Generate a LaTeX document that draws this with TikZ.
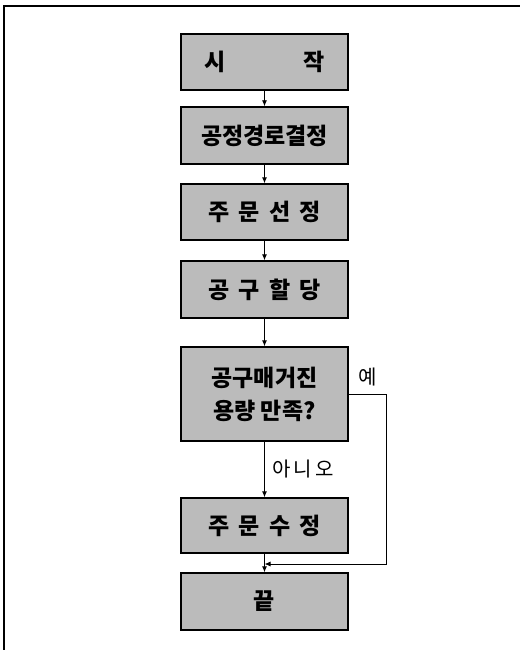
\documentclass[tikz,border=0pt]{standalone}
\usepackage{fontspec}
\setmainfont{Noto Sans CJK KR}
\usetikzlibrary{positioning,arrows.meta}
\definecolor{boxGray}{HTML}{BBBBBB}
\newcommand\kgap{\hspace{0.4em}}

\begin{document}
\begin{tikzpicture}[
  x=1pt, y=-1pt,
  font=\bfseries\fontsize{23}{33}\selectfont,
  bx/.style={draw=black, line width=1.4pt, fill=boxGray, minimum width=167pt, inner sep=0pt, align=center},
  flow/.style={-{Latex[length=6pt,width=5pt]}, line width=0.9pt},
  lab/.style={font=\fontsize{20}{24}\selectfont},
]
\useasboundingbox (0,0) rectangle (520,650);

% page frame (top and left edge only)
\draw[line width=2pt] (4,650) -- (4,6) -- (520,6);

% =========================== STEPS ===========================
\node[bx, minimum height=56pt] (start) at (264.5,62)   {시\hspace{3.4em}작};
\node[bx, minimum height=57pt] (route) at (264.5,135.5) {공정경로결정};
\node[bx, minimum height=56pt] (order) at (264.5,212)   {주\kgap 문\kgap 선\kgap 정};
\node[bx, minimum height=57pt] (tool)  at (264.5,289.5) {공\kgap 구\kgap 할\kgap 당};
\node[bx, minimum height=94pt] (check) at (264.5,394)   {공구매거진\\용량 만족?};
\node[bx, minimum height=55pt] (fix)   at (264.5,525.5) {주\kgap 문\kgap 수\kgap 정};
\node[bx, minimum height=57pt] (stop)  at (264.5,601.5) {끝};

\coordinate (join) at (264.5,564);

\draw[flow] (start) -- (route);
\draw[flow] (route) -- (order);
\draw[flow] (order) -- (tool);
\draw[flow] (tool)  -- (check);
\draw[flow] (check) -- node[lab, right=4pt]{아\hspace{0.15em}니\hspace{0.15em}오} (fix);
\draw[flow] (fix)   -- (stop);

% yes branch
\draw[flow] (check.east) -- node[lab, above=4pt]{예} ++(38,0) |- (join);

\end{tikzpicture}
\end{document}
